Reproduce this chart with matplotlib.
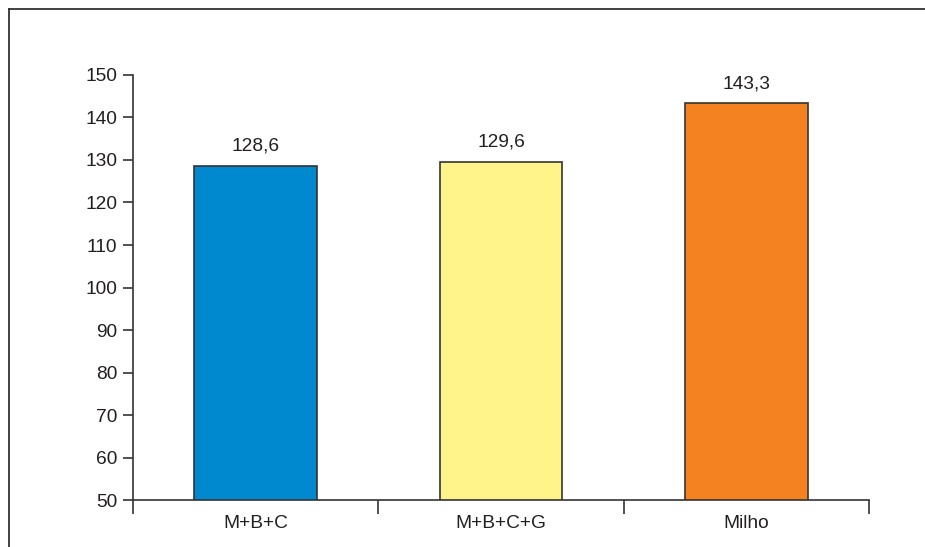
import matplotlib.pyplot as plt
from matplotlib.lines import Line2D

plt.rcParams['font.family'] = ['Liberation Sans', 'DejaVu Sans']

categories = ["M+B+C", "M+B+C+G", "Milho"]
values = [128.6, 129.6, 143.3]
bar_colors = ["#0089cf", "#fff48a", "#f48220"]
yticks = list(range(50, 151, 10))

fig = plt.figure(figsize=(9.25, 5.47), dpi=100)
ax = fig.add_axes([0.1438, 0.0859, 0.7957, 0.7770])

x = range(len(categories))
ax.bar(x, values, width=0.5, color=bar_colors, edgecolor="#333333",
       linewidth=1.2, zorder=2)

for xi, v in zip(x, values):
    ax.annotate(f"{v:.1f}".replace(".", ","), (xi, v), xytext=(0, 8),
                textcoords="offset points", ha="center", va="bottom",
                fontsize=13.8, color="#231f20")

ax.set_xlim(-0.5, len(categories) - 0.5)
ax.set_ylim(50, 150)
ax.set_yticks(yticks)
ax.set_xticks(list(x))
ax.set_xticklabels(categories)
ax.set_xticks([i - 0.5 for i in range(len(categories) + 1)], minor=True)

ax.tick_params(axis="x", which="major", length=0, pad=11, labelsize=13.8,
               labelcolor="#231f20")
ax.tick_params(axis="x", which="minor", length=10, width=1.2, color="#333333",
               direction="out")
ax.tick_params(axis="y", length=7.5, width=1.2, color="#333333", pad=4,
               labelsize=13.8, labelcolor="#231f20")

for side in ["top", "right"]:
    ax.spines[side].set_visible(False)
for side in ["left", "bottom"]:
    ax.spines[side].set_color("#333333")
    ax.spines[side].set_linewidth(1.2)

# outer frame lines
fig.add_artist(Line2D([0.0097, 1.0], [0.9835, 0.9835], color="#333333", lw=1.3))
fig.add_artist(Line2D([0.0097, 0.0097], [0.0, 0.9835], color="#333333", lw=1.3))

fig.savefig("out.png", dpi=100)
